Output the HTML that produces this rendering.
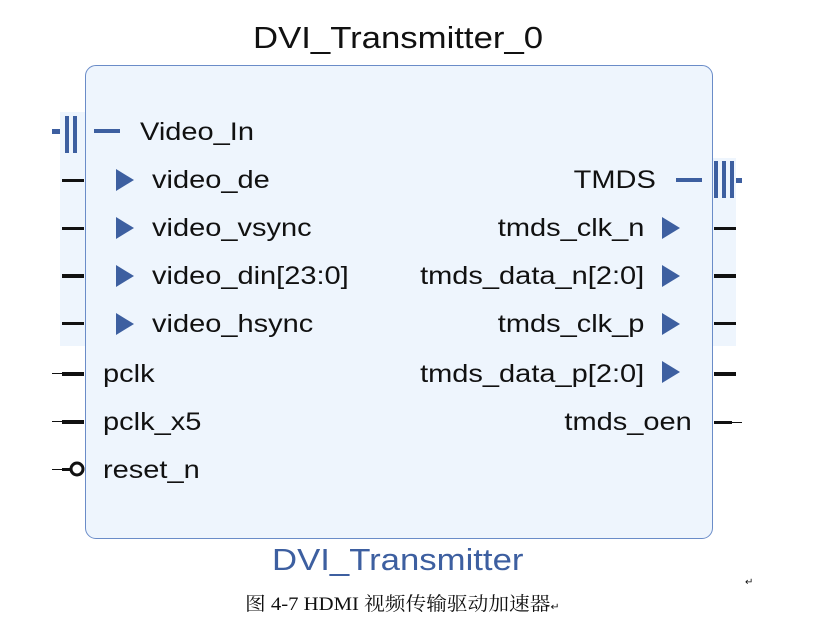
<!DOCTYPE html>
<html><head><meta charset="utf-8"><style>
body{margin:0;width:825px;height:627px;background:#fff;position:relative;overflow:hidden;font-family:"Liberation Sans",sans-serif}
.t{position:absolute;font-size:25px;color:#111;line-height:1;white-space:nowrap;transform:scaleX(1.16);transform-origin:left center}
.r{text-align:right;transform-origin:right center}
</style></head><body>
<div style="position:absolute;left:60px;top:112px;width:26px;height:234px;background:#eef5fd"></div>
<div style="position:absolute;left:712px;top:158px;width:24px;height:188px;background:#eef5fd"></div>
<div style="position:absolute;left:85px;top:65px;width:626px;height:472px;border:1.5px solid #6a8cc8;border-radius:11px;background:#eef5fd"></div>
<div class="t" style="left:253px;top:22px;font-size:31px;transform:scaleX(1.12)">DVI_Transmitter_0</div>
<div class="t" style="left:272px;top:544px;font-size:31px;color:#3d5fa0;transform:scaleX(1.12)">DVI_Transmitter</div>
<div class="t" style="left:245px;top:595px;font-size:19px;transform:scaleX(1.09);font-family:'Liberation Serif','Noto Serif CJK SC',serif">图 4-7 HDMI 视频传输驱动加速器<span style="font-size:10px">↵</span></div>
<div class="t" style="left:745px;top:578px;font-size:10px;transform:none;font-family:'Liberation Serif',serif">↵</div>
<svg width="825" height="627" style="position:absolute;left:0;top:0">
<g fill="#3d5fa0">
<rect x="52" y="129" width="8" height="5"/><rect x="65" y="116" width="4" height="37"/><rect x="73" y="116" width="4" height="37"/>
<rect x="94" y="129" width="26" height="4"/>
<rect x="676" y="178" width="26" height="4"/><rect x="714" y="161" width="4" height="37"/><rect x="722" y="161" width="4" height="37"/><rect x="730" y="161" width="4" height="37"/><rect x="736" y="178" width="6" height="5"/>
<polygon points="116,169 134,180 116,191"/><polygon points="116,217 134,228 116,239"/><polygon points="116,265 134,276 116,287"/><polygon points="116,313 134,324 116,335"/>
<polygon points="662,217 680,228 662,239"/><polygon points="662,265 680,276 662,287"/><polygon points="662,313 680,324 662,335"/><polygon points="662,361 680,372 662,383"/>
</g>
<g fill="#111">
<rect x="62" y="179" width="22" height="3"/><rect x="62" y="227" width="22" height="3"/><rect x="62" y="274" width="22" height="4"/><rect x="62" y="322" width="22" height="3"/>
<rect x="52" y="373" width="10" height="1"/><rect x="62" y="372" width="22" height="4"/>
<rect x="52" y="421" width="10" height="1"/><rect x="62" y="420" width="22" height="4"/>
<rect x="52" y="469" width="10" height="1"/><rect x="62" y="468" width="8" height="3"/>
<rect x="714" y="227" width="22" height="3"/><rect x="714" y="274" width="22" height="4"/><rect x="714" y="322" width="22" height="3"/><rect x="714" y="372" width="22" height="4"/>
<rect x="714" y="421" width="18" height="3"/><rect x="732" y="422" width="10" height="1"/>
</g>
<circle cx="77" cy="469" r="6" fill="#fff" stroke="#111" stroke-width="3"/>
</svg>
<div class="t" style="left:140px;top:120px">Video_In</div>
<div class="t" style="left:152px;top:168px">video_de</div>
<div class="t" style="left:152px;top:216px">video_vsync</div>
<div class="t" style="left:152px;top:264px">video_din[23:0]</div>
<div class="t" style="left:152px;top:312px">video_hsync</div>
<div class="t" style="left:103px;top:362px">pclk</div>
<div class="t" style="left:103px;top:410px">pclk_x5</div>
<div class="t" style="left:103px;top:458px">reset_n</div>
<div class="t r" style="right:169px;top:168px">TMDS</div>
<div class="t r" style="right:181px;top:216px">tmds_clk_n</div>
<div class="t r" style="right:181px;top:264px">tmds_data_n[2:0]</div>
<div class="t r" style="right:181px;top:312px">tmds_clk_p</div>
<div class="t r" style="right:181px;top:362px">tmds_data_p[2:0]</div>
<div class="t r" style="right:133px;top:410px">tmds_oen</div>
</body></html>
